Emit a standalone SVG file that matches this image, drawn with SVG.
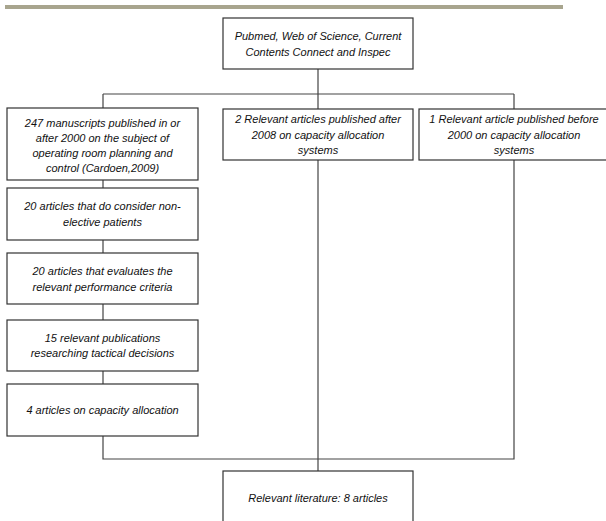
<svg xmlns="http://www.w3.org/2000/svg" width="606" height="521" viewBox="0 0 606 521">
<style>
.box{fill:#fff;stroke:#333;stroke-width:1.2}
.t{font-family:"Liberation Sans",Arial,sans-serif;font-style:italic;font-size:11px;fill:#111;text-anchor:middle}
.c{stroke:#444;stroke-width:1.2;fill:none}
</style>
<rect x="0" y="0" width="606" height="521" fill="#fff"/>
<rect x="5" y="5" width="558" height="4" fill="#a8a58e"/>
<g id="connectors">
<path class="c" d="M318 69V94M103 94H514M103 94V108M318 94V109M514 94V109"/>
<path class="c" d="M103 180V188M103 240V253M103 304V320M103 371V384M103 436V459H514V160M318 160V471"/>
</g>
<g id="n-sources">
<rect class="box" x="223" y="18" width="190" height="51"/>
<text class="t" x="318" y="39.5">Pubmed, Web of Science, Current</text>
<text class="t" x="318" y="55.5">Contents Connect and Inspec</text>
</g>
<g id="n-247">
<rect class="box" x="7" y="108" width="191" height="72"/>
<text class="t" x="102.5" y="126.5">247 manuscripts published in or</text>
<text class="t" x="102.5" y="141.5">after 2000 on the subject of</text>
<text class="t" x="102.5" y="156.5">operating room planning and</text>
<text class="t" x="102.5" y="171.5">control (Cardoen,2009)</text>
</g>
<g id="n-after2008">
<rect class="box" x="223" y="109" width="190" height="51"/>
<text class="t" x="318" y="123">2 Relevant articles published after</text>
<text class="t" x="318" y="138.5">2008 on capacity allocation</text>
<text class="t" x="318" y="154">systems</text>
</g>
<g id="n-before2000">
<rect class="box" x="419" y="109" width="190" height="51"/>
<text class="t" x="514" y="123">1 Relevant article published before</text>
<text class="t" x="514" y="138.5">2000 on capacity allocation</text>
<text class="t" x="514" y="154">systems</text>
</g>
<g id="n-nonelective">
<rect class="box" x="7" y="188" width="191" height="52"/>
<text class="t" x="102.5" y="210">20 articles that do consider non-</text>
<text class="t" x="102.5" y="226">elective patients</text>
</g>
<g id="n-performance">
<rect class="box" x="7" y="253" width="191" height="51"/>
<text class="t" x="102.5" y="275">20 articles that evaluates the</text>
<text class="t" x="102.5" y="290.5">relevant performance criteria</text>
</g>
<g id="n-tactical">
<rect class="box" x="7" y="320" width="191" height="51"/>
<text class="t" x="102.5" y="341.5">15 relevant publications</text>
<text class="t" x="102.5" y="357">researching tactical decisions</text>
</g>
<g id="n-capacity">
<rect class="box" x="7" y="384" width="191" height="52"/>
<text class="t" x="102.5" y="414">4 articles on capacity allocation</text>
</g>
<g id="n-result">
<rect class="box" x="223" y="471" width="190" height="60"/>
<text class="t" x="318" y="502">Relevant literature: 8 articles</text>
</g>
</svg>
